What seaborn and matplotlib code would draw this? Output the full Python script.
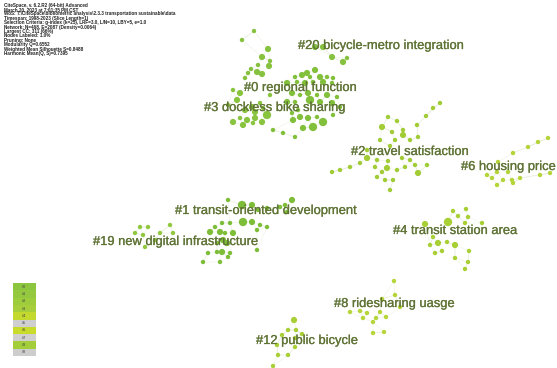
import matplotlib
matplotlib.use("Agg")
import matplotlib.pyplot as plt
import matplotlib.patheffects as pe
from matplotlib.patches import Rectangle
from matplotlib.collections import LineCollection
import numpy as np
import pandas as pd
import seaborn as sns

sns.set_theme(style="white")
plt.rcParams["font.family"] = ["Liberation Sans", "DejaVu Sans"]

# ---- cluster members: layout coordinates (x, y) and node weight (1-3) ----
c20_x = [268, 262, 270, 258, 269, 251, 257, 262, 248, 245, 315, 323, 332, 343, 347, 254, 242]
c20_y = [49, 57, 61, 65, 66, 69, 72, 74, 73, 78, 47, 47, 57, 62, 58, 31, 40]
c20_w = [2, 2, 1, 1, 2, 1, 2, 2, 1, 1, 2, 2, 2, 2, 1, 1, 1]

c0_x = [307, 315, 295, 302, 310, 320, 327, 333, 287, 297, 305, 313, 323, 332, 292, 300, 308,
        317, 327, 337, 287, 295, 310, 320, 332, 292, 300, 308, 317, 323, 313, 303, 293, 298,
        273, 283, 295, 333, 340]
c0_y = [73, 70, 77, 75, 77, 77, 77, 78, 83, 82, 83, 82, 82, 83, 93, 95, 93,
        95, 95, 97, 102, 102, 100, 102, 103, 113, 117, 118, 117, 122, 127, 128, 120, 110,
        130, 133, 137, 115, 107]
c0_w = [2, 2, 1, 2, 1, 2, 1, 1, 2, 1, 2, 1, 2, 1, 2, 1, 2,
        1, 2, 1, 2, 1, 3, 2, 2, 1, 2, 2, 1, 3, 3, 2, 2, 1,
        1, 1, 1, 1, 1]

c3_x = [233, 240, 237, 245, 252, 260, 267, 262, 255, 247, 240, 233, 243, 253, 263, 255, 228, 270]
c3_y = [90, 93, 100, 110, 107, 103, 115, 122, 118, 120, 118, 122, 125, 123, 108, 112, 105, 95]
c3_w = [1, 2, 2, 2, 2, 1, 3, 2, 2, 2, 1, 2, 2, 1, 1, 2, 1, 1]

c2_x = [440, 433, 426, 417, 388, 397, 382, 392, 403, 403, 395, 410, 418, 380, 367, 377, 388,
        402, 410, 360, 350, 340, 332, 387, 382, 397, 405, 415, 418, 427, 377, 385, 393, 390,
        375, 367, 390]
c2_y = [103, 108, 116, 125, 117, 121, 127, 132, 130, 135, 140, 140, 137, 140, 158, 160, 161,
        158, 160, 163, 167, 170, 172, 168, 172, 170, 167, 165, 173, 165, 177, 180, 180, 190,
        167, 150, 146]
c2_w = [1, 1, 1, 1, 1, 1, 2, 1, 1, 2, 1, 1, 1, 1, 2, 1, 1,
        1, 1, 1, 1, 1, 1, 2, 1, 1, 1, 1, 2, 1, 1, 1, 1, 1,
        1, 1, 1]

c6_x = [548, 538, 528, 513, 498, 508, 487, 492, 503, 512, 520, 513, 497, 550, 540, 497]
c6_y = [138, 142, 147, 153, 162, 172, 175, 178, 180, 180, 178, 183, 185, 173, 175, 172]
c6_w = [1, 1, 1, 1, 1, 1, 1, 1, 1, 1, 1, 1, 1, 1, 1, 1]

c1_x = [228, 242, 252, 258, 267, 280, 292, 285, 287, 243, 252, 260, 267, 257, 230, 222, 215,
        210, 220, 225, 233, 223, 217, 227, 217, 222, 208, 230, 257, 203, 220, 228]
c1_y = [200, 205, 205, 210, 208, 207, 200, 205, 212, 222, 222, 225, 227, 230, 223, 223, 227,
        232, 232, 233, 233, 240, 243, 243, 252, 252, 253, 253, 250, 262, 262, 257]
c1_w = [1, 3, 2, 1, 1, 1, 2, 1, 1, 3, 2, 1, 1, 1, 1, 1, 1,
        2, 2, 1, 2, 2, 1, 2, 1, 2, 1, 1, 1, 1, 1, 1]

c19_x = [140, 148, 170, 135, 143, 160, 173, 145, 155]
c19_y = [227, 227, 225, 233, 235, 233, 233, 247, 240]
c19_w = [1, 1, 1, 1, 1, 1, 1, 1, 1]

c4_x = [453, 466, 458, 468, 448, 465, 482, 425, 433, 438, 447, 455, 430, 442, 435, 469, 455, 468, 465]
c4_y = [211, 209, 216, 217, 222, 223, 223, 224, 237, 243, 242, 245, 245, 251, 253, 251, 258, 262, 269]
c4_w = [1, 1, 1, 1, 3, 1, 1, 2, 1, 2, 1, 2, 1, 1, 1, 1, 1, 1, 1]

c8_x = [394, 395, 382, 400, 350, 360, 367, 380, 376, 363, 373, 386, 373, 384]
c8_y = [281, 295, 299, 307, 312, 311, 313, 312, 318, 318, 322, 317, 333, 332]
c8_w = [1, 1, 1, 1, 1, 1, 1, 1, 1, 1, 1, 1, 1, 1]

c12_x = [294, 288, 296, 282, 302, 295, 277, 295, 278, 288, 273]
c12_y = [320, 330, 330, 335, 334, 338, 345, 347, 355, 355, 366]
c12_w = [2, 1, 1, 1, 1, 1, 1, 1, 1, 1, 1]

# ---- cluster labels ----
label_names = ["#20 bicycle-metro integration", "#0 regional function", "#3 dockless bike sharing",
               "#2 travel satisfaction", "#6 housing price", "#1 transit-oriented development",
               "#19 new digital infrastructure", "#4 transit station area",
               "#8 ridesharing uasge", "#12 public bicycle"]
label_x = [298, 244, 204, 351, 461, 175, 93, 393, 334, 256]
label_y = [46, 88, 108, 152, 167, 211, 242, 231, 304, 341]

# ---- cluster colour key ----
key_names = ["#0", "#1", "#2", "#3", "#4", "#5", "#6", "#7", "#8", "#9"]
key_colors = ["#8cc63e", "#94c93f", "#9dcc3d", "#a6cf3b", "#c4d92e", "#cfcfcf",
              "#c9dc2c", "#d0d0d0", "#a3cd3a", "#cdcdcd"]

header_lines = [
    "CiteSpace, v. 6.2.R2 (64-bit) Advanced",
    "March 20, 2023 at 7:01:35 PM CST",
    "WoS: T:\\CiteSpace\\bibliometric analysis\\2.3.3 transportation sustainable\\data",
    "Timespan: 1998-2023 (Slice Length=1)",
    "Selection Criteria: g-index (k=25), LRF=3.0, L/N=10, LBY=5, e=1.0",
    "Network: N=468, E=2087 (Density=0.0064)",
    "Largest CC: 311 (66%)",
    "Nodes Labeled: 1.0%",
    "Pruning: None",
    "Modularity Q=0.6552",
    "Weighted Mean Silhouette S=0.8488",
    "Harmonic Mean(Q, S)=0.7395",
]

clusters = [
    ("#20", c20_x, c20_y, c20_w, "#86c23f"),
    ("#0", c0_x, c0_y, c0_w, "#82c03c"),
    ("#3", c3_x, c3_y, c3_w, "#88c43e"),
    ("#2", c2_x, c2_y, c2_w, "#a2cc36"),
    ("#6", c6_x, c6_y, c6_w, "#b4d43a"),
    ("#1", c1_x, c1_y, c1_w, "#7dbd38"),
    ("#19", c19_x, c19_y, c19_w, "#92c840"),
    ("#4", c4_x, c4_y, c4_w, "#a8cf34"),
    ("#8", c8_x, c8_y, c8_w, "#b6d538"),
    ("#12", c12_x, c12_y, c12_w, "#a9cf36"),
]

frames = []
palette = {}
for name, xs, ys, ws, col in clusters:
    frames.append(pd.DataFrame({"x": xs, "y": ys, "w": ws, "cluster": name}))
    palette[name] = col
nodes = pd.concat(frames, ignore_index=True)

fig = plt.figure(figsize=(5.57, 3.68), dpi=100)
ax = fig.add_axes([0, 0, 1, 1])
ax.set_xlim(0, 557)
ax.set_ylim(368, 0)
ax.axis("off")

# faint co-citation links inside each cluster: join each node to its two nearest peers
segs = []
for name, xs, ys, ws, col in clusters:
    pts = np.column_stack([xs, ys]).astype(float)
    for i, p in enumerate(pts):
        d = np.hypot(*(pts - p).T)
        d[i] = np.inf
        for j in np.argsort(d)[:2]:
            segs.append([p, pts[j]])
ax.add_collection(LineCollection(segs, colors="#d9e4c6", linewidths=0.35, alpha=0.55, zorder=1))

sns.scatterplot(data=nodes, x="x", y="y", hue="cluster", palette=palette,
                size="w", sizes={1: 10, 2: 20, 3: 36}, linewidth=0, legend=False,
                ax=ax, zorder=2)
ax.set_xlabel("")
ax.set_ylabel("")
ax.set_xlim(0, 557)
ax.set_ylim(368, 0)

label_color = "#5f7335"
for t, x, y in zip(label_names, label_x, label_y):
    ax.text(x, y, t, fontsize=9.3, color=label_color, va="center", ha="left",
            alpha=0.95, zorder=3, clip_on=False,
            path_effects=[pe.withStroke(linewidth=0.2, foreground=label_color)])

for k, line in enumerate(header_lines):
    ax.text(4, 5 + k * 4.4, line, fontsize=3.3, color="#222222", va="center",
            ha="left", fontweight="bold")

for k, (nm, col) in enumerate(zip(key_names, key_colors)):
    y0 = 283 + k * 7.3
    ax.add_patch(Rectangle((13, y0), 23, 7.3, facecolor=col, edgecolor="none"))
    ax.text(24.5, y0 + 3.65, nm, fontsize=2.8, color="#444444", ha="center", va="center")

fig.savefig("out.png", dpi=100)
